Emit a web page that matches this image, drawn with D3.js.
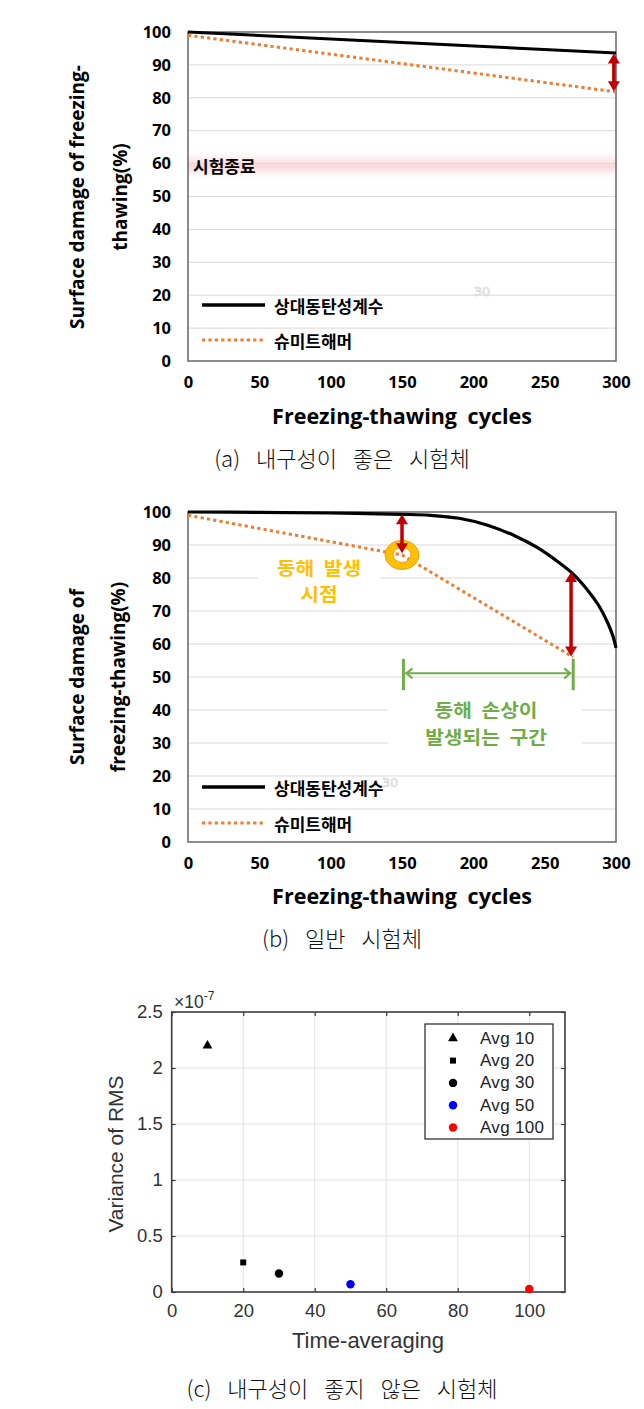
<!DOCTYPE html>
<html><head><meta charset="utf-8">
<script src="https://cdn.jsdelivr.net/npm/d3@7"></script>
<style>body{margin:0;background:#fff}svg{display:block}</style>
</head><body><svg id="c" width="644" height="1409"></svg>
<script>
// ---------- data ----------
const cycleTicks = [0, 50, 100, 150, 200, 250, 300];
const pctTicks = [0, 10, 20, 30, 40, 50, 60, 70, 80, 90, 100];
const legendLabels = ["상대동탄성계수", "슈미트해머"];
// (a) good durability specimen
const cyclesA = [0, 150, 300];
const relA = [100, 96.8, 93.6];
const schCyclesA = [0, 300];
const schA = [99, 81.8];
const arrowA = {x: 298.5, from: 93.5, to: 82.0};
const endBand = {value: 59.5, half: 2.6, label: "시험종료"};
// (b) ordinary specimen
const cyclesB = [0, 50, 100, 150, 170, 190, 210, 230, 245, 260, 270, 280, 288, 294, 298, 300];
const relB = [100, 99.9, 99.7, 99.3, 99.0, 98.1, 96.0, 92.6, 89.2, 84.7, 81.2, 76.4, 71.6, 66.6, 62.2, 58.8];
const schCyclesB = [0, 150, 270];
const schB = [99, 87, 56];
const onsetPoint = {x: 150, y: 87};
const arrowsB = [{x: 150, from: 99.3, to: 87.5}, {x: 268.5, from: 81.8, to: 56.2}];
const damageZone = {from: 151, to: 270, yTop: 55.5, yBottom: 46, yArrow: 51.1};
const onsetLabel = ["동해 발생", "시점"];
const zoneLabel = ["동해 손상이", "발생되는 구간"];
// (c) poor durability specimen
const avgX = [10, 20, 30, 50, 100];
const avgVar = [2.2e-7, 0.264e-7, 0.165e-7, 0.069e-7, 0.027e-7];
const avgLabels = ["Avg 10", "Avg 20", "Avg 30", "Avg 50", "Avg 100"];
const avgShapes = ["triangle", "square", "circle", "circle", "circle"];
const avgColors = ["#000000", "#000000", "#000000", "#0000ff", "#ff0000"];
const avgXTicks = [0, 20, 40, 60, 80, 100];
const avgYTicks = [0, 0.5e-7, 1e-7, 1.5e-7, 2e-7, 2.5e-7];
const captions = ["(a) 내구성이 좋은 시험체", "(b) 일반 시험체", "(c) 내구성이 좋지 않은 시험체"];

// ---------- drawing ----------
const svg = d3.select("#c");
const defs = svg.append("defs");
const BOLD = "'Open Sans','Noto Sans CJK KR',sans-serif";
const KR = "'Noto Sans CJK KR',sans-serif";
const ORANGE = "#ED7D31", RED = "#C00000", GREEN = "#70AD47", GOLD = "#FFC000";

const grad = defs.append("linearGradient").attr("id", "band").attr("x1", 0).attr("x2", 0).attr("y1", 0).attr("y2", 1);
grad.append("stop").attr("offset", "0%").attr("stop-color", "#fbdde1").attr("stop-opacity", 0);
grad.append("stop").attr("offset", "35%").attr("stop-color", "#f8cdd3").attr("stop-opacity", 0.5);
grad.append("stop").attr("offset", "55%").attr("stop-color", "#f5bcc4").attr("stop-opacity", 0.6);
grad.append("stop").attr("offset", "100%").attr("stop-color", "#fbdde1").attr("stop-opacity", 0);

function arrow(g, x1, y1, x2, y2, color, w, hl, hw) {
  const dx = x2 - x1, dy = y2 - y1, L = Math.hypot(dx, dy), ux = dx / L, uy = dy / L;
  const px = -uy, py = ux;
  g.append("line").attr("x1", x1 + ux * hl * 0.8).attr("y1", y1 + uy * hl * 0.8)
    .attr("x2", x2 - ux * hl * 0.8).attr("y2", y2 - uy * hl * 0.8)
    .attr("stroke", color).attr("stroke-width", w);
  [[x1, y1, 1], [x2, y2, -1]].forEach(([x, y, s]) => {
    const bx = x + s * ux * hl, by = y + s * uy * hl;
    g.append("path").attr("d", `M${x},${y}L${bx + px * hw / 2},${by + py * hw / 2}L${bx - px * hw / 2},${by - py * hw / 2}Z`)
      .attr("fill", color);
  });
}
function openArrow(g, x1, y, x2, color, w, hl, hw) {
  g.append("line").attr("x1", x1).attr("x2", x2).attr("y1", y).attr("y2", y).attr("stroke", color).attr("stroke-width", w);
  g.append("path").attr("d", `M${x1 + hl},${y - hw}L${x1 + 1},${y}L${x1 + hl},${y + hw}`).attr("fill", "none").attr("stroke", color).attr("stroke-width", w);
  g.append("path").attr("d", `M${x2 - hl},${y - hw}L${x2 - 1},${y}L${x2 - hl},${y + hw}`).attr("fill", "none").attr("stroke", color).attr("stroke-width", w);
}
// two-line bold Korean label, slightly condensed vertically so line boxes do not collide
function multiLine(g, lines, x, yc, pitch, size, color) {
  const sy = 0.9;
  const t = g.append("text").attr("transform", `translate(${x},${yc}) scale(1,${sy})`).attr("text-anchor", "middle")
    .attr("font-family", KR).attr("font-weight", 700).attr("font-size", size).attr("fill", color).attr("word-spacing", 5);
  lines.forEach((s, i) => t.append("tspan").attr("x", 0).attr("y", (i - (lines.length - 1) / 2) * pitch / sy).attr("dy", "0.36em").text(s));
}

function freezeChart(top, bottom, titleLines, titleX, titleCy, xTitleY, legendY) {
  const x = d3.scaleLinear().domain([0, 300]).range([188, 616]);
  const y = d3.scaleLinear().domain([0, 100]).range([bottom, top]);
  const g = svg.append("g");
  g.append("g").selectAll("line").data(pctTicks.slice(1, -1)).join("line")
    .attr("x1", x(0)).attr("x2", x(300)).attr("y1", d => y(d)).attr("y2", d => y(d))
    .attr("stroke", "#d9d9d9").attr("stroke-width", 1);
  const ax = g.append("g").attr("transform", `translate(0,${bottom})`)
    .call(d3.axisBottom(x).tickValues(cycleTicks).tickSize(0).tickPadding(15));
  ax.select(".domain").remove();
  ax.selectAll("text").attr("font-family", BOLD).attr("font-weight", 700).attr("font-size", 16.5).attr("fill", "#000");
  const ay = g.append("g").attr("transform", `translate(${x(0) - 17},0)`)
    .call(d3.axisLeft(y).tickValues(pctTicks).tickSize(0).tickPadding(0));
  ay.select(".domain").remove();
  ay.selectAll("text").attr("font-family", BOLD).attr("font-weight", 700).attr("font-size", 16.5).attr("fill", "#000");
  titleLines.forEach((t, i) => {
    g.append("text").attr("transform", `translate(${titleX[i]},${titleCy}) rotate(-90)`)
      .attr("text-anchor", "middle").attr("dominant-baseline", "central")
      .attr("font-family", BOLD).attr("font-weight", 700).attr("font-size", 19).text(t);
  });
  g.append("text").attr("x", 402).attr("y", xTitleY).attr("text-anchor", "middle").attr("dominant-baseline", "central")
    .attr("font-family", BOLD).attr("font-weight", 700).attr("font-size", 21.5).attr("word-spacing", 5)
    .text("Freezing-thawing cycles");
  const lg = g.append("g");
  lg.append("line").attr("x1", 202).attr("x2", 265).attr("y1", legendY[0]).attr("y2", legendY[0]).attr("stroke", "#000").attr("stroke-width", 3.5);
  lg.append("line").attr("x1", 202).attr("x2", 265).attr("y1", legendY[1]).attr("y2", legendY[1]).attr("stroke", ORANGE).attr("stroke-width", 3).attr("stroke-dasharray", "3.2,3.2");
  legendLabels.forEach((t, i) => lg.append("text").attr("x", 274).attr("y", legendY[i]).attr("dominant-baseline", "central")
    .attr("font-family", KR).attr("font-weight", 700).attr("font-size", 17).text(t));
  return {g, x, y};
}

// ===== (a) =====
{
  const {g, x, y} = freezeChart(32, 361, ["Surface damage of freezing-", "thawing(%)"], [77, 120], 197, 415, [305, 340]);
  const by = y(endBand.value + endBand.half * 1.6), bh = y(endBand.value - endBand.half * 1.6) - by;
  g.insert("rect", ":first-child").attr("x", x(0)).attr("width", x(300) - x(0)).attr("y", by).attr("height", bh).attr("fill", "url(#band)");
  g.append("text").attr("x", 193).attr("y", y(endBand.value) + 0.5).attr("dominant-baseline", "central")
    .attr("font-family", KR).attr("font-weight", 700).attr("font-size", 17).text(endBand.label);
  g.append("text").attr("x", 482).attr("y", 291).attr("text-anchor", "middle").attr("dominant-baseline", "central")
    .attr("font-family", "DejaVu Sans").attr("font-size", 13).attr("fill", "#fff").attr("stroke", "#d4d4d4").attr("stroke-width", 0.7).text("30");
  g.append("rect").attr("x", x(0)).attr("y", y(100)).attr("width", x(300) - x(0)).attr("height", y(0) - y(100))
    .attr("fill", "none").attr("stroke", "#6f6f6f").attr("stroke-width", 1.6);
  const line = d3.line().x(d => x(d[0])).y(d => y(d[1]));
  g.append("path").attr("d", line(schCyclesA.map((c, i) => [c, schA[i]]))).attr("fill", "none")
    .attr("stroke", ORANGE).attr("stroke-width", 3).attr("stroke-dasharray", "3.2,3.2");
  g.append("path").attr("d", line(cyclesA.map((c, i) => [c, relA[i]]))).attr("fill", "none")
    .attr("stroke", "#000").attr("stroke-width", 3);
  arrow(g, x(arrowA.x), y(arrowA.from), x(arrowA.x), y(arrowA.to), RED, 3.5, 10, 12);
}

// ===== (b) =====
{
  const {g, x, y} = freezeChart(512, 842, ["Surface damage of", "freezing-thawing(%)"], [77, 118], 677, 895, [787, 823]);
  g.append("rect").attr("x", 258).attr("y", 553).attr("width", 122).attr("height", 54).attr("fill", "#fff");
  g.append("rect").attr("x", 388).attr("y", 694).attr("width", 194).attr("height", 58).attr("fill", "#fff");
  g.append("text").attr("x", 390).attr("y", 782).attr("text-anchor", "middle").attr("dominant-baseline", "central")
    .attr("font-family", "DejaVu Sans").attr("font-size", 13).attr("fill", "#fff").attr("stroke", "#d4d4d4").attr("stroke-width", 0.7).text("30");
  g.append("rect").attr("x", x(0)).attr("y", y(100)).attr("width", x(300) - x(0)).attr("height", y(0) - y(100))
    .attr("fill", "none").attr("stroke", "#6f6f6f").attr("stroke-width", 1.6);
  const line = d3.line().x(d => x(d[0])).y(d => y(d[1]));
  g.append("path").attr("d", line(schCyclesB.map((c, i) => [c, schB[i]]))).attr("fill", "none")
    .attr("stroke", ORANGE).attr("stroke-width", 3).attr("stroke-dasharray", "3.2,3.2");
  g.append("path").attr("d", d3.line().x(d => x(d[0])).y(d => y(d[1])).curve(d3.curveCatmullRom.alpha(0.5))(cyclesB.map((c, i) => [c, relB[i]])))
    .attr("fill", "none").attr("stroke", "#000").attr("stroke-width", 3.2);
  const cx = x(onsetPoint.x), cy = y(onsetPoint.y), rx = 17, ry = 14.5, ix = 9, iy = 7.5;
  const ring = `M${cx - rx},${cy}a${rx},${ry} 0 1,0 ${2 * rx},0a${rx},${ry} 0 1,0 ${-2 * rx},0Z` +
               `M${cx - ix},${cy}a${ix},${iy} 0 1,0 ${2 * ix},0a${ix},${iy} 0 1,0 ${-2 * ix},0Z`;
  g.append("path").attr("d", ring).attr("fill", GOLD).attr("fill-rule", "evenodd").attr("stroke", "#F29B22").attr("stroke-width", 1);
  arrowsB.forEach(a => arrow(g, x(a.x), y(a.from), x(a.x), y(a.to), RED, 3.5, 10, 12));
  [damageZone.from, damageZone.to].forEach(v => g.append("line").attr("x1", x(v)).attr("x2", x(v))
    .attr("y1", y(damageZone.yTop)).attr("y2", y(damageZone.yBottom)).attr("stroke", GREEN).attr("stroke-width", 3));
  openArrow(g, x(damageZone.from) + 2, y(damageZone.yArrow), x(damageZone.to) - 2, GREEN, 2, 7, 5);
  multiLine(g, onsetLabel, 319, 581.5, 26.3, 20.3, GOLD);
  multiLine(g, zoneLabel, 486, 724, 26.3, 20.3, GREEN);
}

// ===== (c) =====
{
  const SANS = "'Liberation Sans',Arial,sans-serif";
  const x = d3.scaleLinear().domain([0, 110]).range([171.7, 565]);
  const y = d3.scaleLinear().domain([0, 2.5e-7]).range([1292, 1012]);
  const g = svg.append("g");
  const AX = "#3c3c3c";
  g.append("g").selectAll("line").data(avgXTicks.slice(1)).join("line")
    .attr("x1", d => x(d)).attr("x2", d => x(d)).attr("y1", y(0)).attr("y2", y(2.5e-7)).attr("stroke", "#e2e2e2");
  g.append("g").selectAll("line").data(avgYTicks.slice(1, -1)).join("line")
    .attr("y1", d => y(d)).attr("y2", d => y(d)).attr("x1", x(0)).attr("x2", x(110)).attr("stroke", "#e2e2e2");
  const fmt = d => String(+(d * 1e7).toFixed(1));
  const style = s => { s.select(".domain").remove(); s.selectAll("line").attr("stroke", AX).attr("stroke-width", 1.2);
    s.selectAll("text").attr("font-family", SANS).attr("font-size", 18.5).attr("fill", "#333"); };
  g.append("g").attr("transform", `translate(0,${y(0)})`).call(d3.axisBottom(x).tickValues(avgXTicks).tickSizeInner(-4).tickSizeOuter(0).tickPadding(12)).call(style);
  g.append("g").attr("transform", `translate(0,${y(2.5e-7)})`).call(d3.axisTop(x).tickValues(avgXTicks).tickSizeInner(-4).tickSizeOuter(0).tickFormat("")).call(style);
  g.append("g").attr("transform", `translate(${x(0)},0)`).call(d3.axisLeft(y).tickValues(avgYTicks).tickSizeInner(-4).tickSizeOuter(0).tickPadding(9).tickFormat(fmt)).call(style);
  g.append("g").attr("transform", `translate(${x(110)},0)`).call(d3.axisRight(y).tickValues(avgYTicks).tickSizeInner(-4).tickSizeOuter(0).tickFormat("")).call(style);
  g.append("rect").attr("x", x(0)).attr("y", y(2.5e-7)).attr("width", x(110) - x(0)).attr("height", y(0) - y(2.5e-7))
    .attr("fill", "none").attr("stroke", AX).attr("stroke-width", 1.6);
  const ex = g.append("text").attr("x", 174).attr("y", 1008).attr("font-family", SANS).attr("font-size", 17.5).attr("fill", "#333");
  ex.append("tspan").text("×10");
  ex.append("tspan").attr("dy", -8).attr("font-size", 12).text("-7");
  g.append("text").attr("x", 368).attr("y", 1340).attr("text-anchor", "middle").attr("dominant-baseline", "central")
    .attr("font-family", SANS).attr("font-size", 22).attr("fill", "#333").text("Time-averaging");
  g.append("text").attr("transform", `translate(115,1154) rotate(-90)`).attr("text-anchor", "middle").attr("dominant-baseline", "central")
    .attr("font-family", SANS).attr("font-size", 21).attr("fill", "#333").text("Variance of RMS");
  const sym = {triangle: d3.symbolTriangle, square: d3.symbolSquare, circle: d3.symbolCircle};
  const size = {triangle: 42, square: 36, circle: 56};
  g.append("g").selectAll("path").data(avgX).join("path")
    .attr("transform", (d, i) => `translate(${x(d)},${y(avgVar[i])})`)
    .attr("d", (d, i) => d3.symbol(sym[avgShapes[i]], size[avgShapes[i]])())
    .attr("fill", (d, i) => avgColors[i]);
  const lg = g.append("g");
  lg.append("rect").attr("x", 425).attr("y", 1024).attr("width", 128).attr("height", 115).attr("fill", "#fff").attr("stroke", "#222").attr("stroke-width", 1.2);
  avgLabels.forEach((t, i) => {
    const ly = 1038.3 + i * 22.3;
    lg.append("path").attr("transform", `translate(453,${ly})`).attr("d", d3.symbol(sym[avgShapes[i]], size[avgShapes[i]])()).attr("fill", avgColors[i]);
    lg.append("text").attr("x", 480).attr("y", ly).attr("dominant-baseline", "central").attr("font-family", SANS)
      .attr("font-size", 17).attr("fill", "#222").attr("letter-spacing", 0.3).text(t);
  });
}

// captions
[457, 937, 1387].forEach((cy, i) => svg.append("text").attr("x", 342).attr("y", cy).attr("text-anchor", "middle")
  .attr("dominant-baseline", "central").attr("font-family", KR).attr("font-weight", 300).attr("font-size", 22)
  .attr("word-spacing", 11).attr("fill", "#111").text(captions[i]));
</script></body></html>
